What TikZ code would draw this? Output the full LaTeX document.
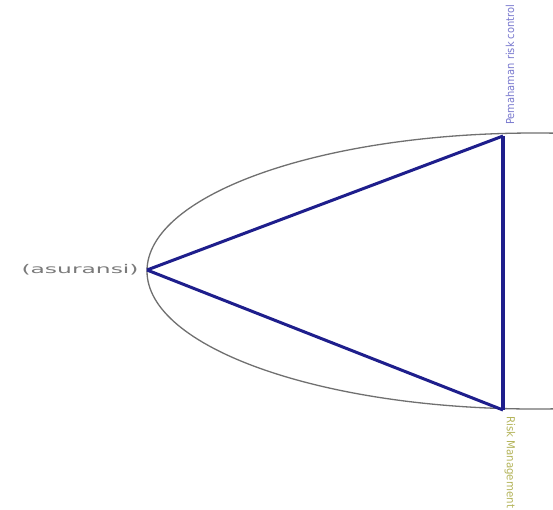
\documentclass[tikz,border=0pt]{standalone}
\usepackage{fontspec}
\setmainfont{DejaVu Sans}
\begin{document}
\begin{tikzpicture}[x=1pt,y=-1pt,
  tri/.style={draw=navyline, line width=3pt, line join=miter},
  lbl/.style={inner sep=0pt, font=\fontsize{11}{11}\selectfont}]
\definecolor{navyline}{HTML}{1E1E8C}
\definecolor{ellcol}{HTML}{707070}
\definecolor{bluetext}{HTML}{7A7ACF}
\definecolor{olivetext}{HTML}{B4B45A}
\definecolor{graytext}{HTML}{7A7A7A}
\useasboundingbox (0,0) rectangle (553,509);
\fill[white] (0,0) rectangle (553,509);
\begin{scope}
\clip (0,0) rectangle (553,509);
\draw[ellcol, line width=1.3pt] (535,271) ellipse [x radius=388, y radius=138];
\end{scope}
\coordinate (A) at (147,270);
\coordinate (B) at (503,136);
\coordinate (C) at (503,410);
\draw[tri] (A) -- (B);
\draw[tri] (A) -- (C);
\draw[draw=navyline, line width=4.4pt] (B) -- (C);
\node[lbl, text=bluetext, rotate=90, anchor=west, xscale=0.9] (pem) at (510,125) {Pemahaman risk control};
\node[lbl, text=olivetext, rotate=-90, anchor=west, xscale=0.93] (rm) at (510,416) {Risk Management};
\node[lbl, text=graytext, anchor=east, xscale=1.95, font=\fontsize{12}{12}\selectfont] (as) at (139,270) {(asuransi)};
\end{tikzpicture}
\end{document}
